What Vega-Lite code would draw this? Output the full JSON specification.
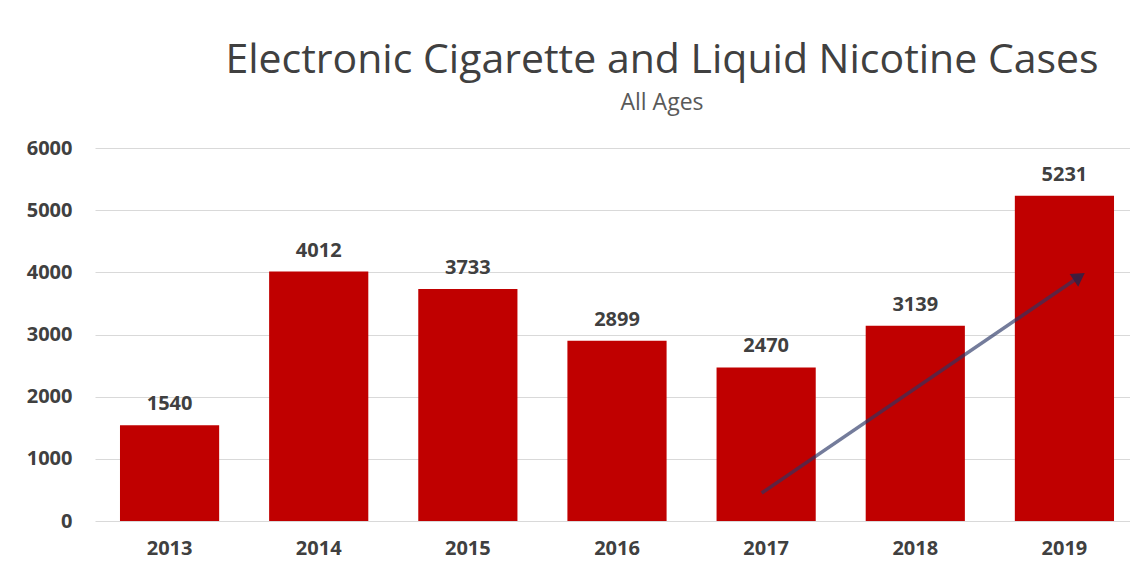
{
  "$schema": "https://vega.github.io/schema/vega-lite/v6.json",
  "width": 1044,
  "height": 373,
  "autosize": {"type": "none"},
  "padding": {"left": 95, "top": 148, "right": 0, "bottom": 60},
  "background": "white",
  "config": {"view": {"stroke": null}, "font": "Open Sans"},
  "title": {
    "text": "Electronic Cigarette and Liquid Nicotine Cases",
    "subtitle": "All Ages",
    "font": "Open Sans",
    "fontSize": 41,
    "fontWeight": "normal",
    "color": "#404040",
    "subtitleFont": "Open Sans",
    "subtitleFontSize": 23,
    "subtitleColor": "#595959",
    "subtitlePadding": 10,
    "anchor": "middle",
    "dx": 45,
    "offset": 22
  },
  "datasets": {
    "cases": [
      {"year": "2013", "cases": 1540},
      {"year": "2014", "cases": 4012},
      {"year": "2015", "cases": 3733},
      {"year": "2016", "cases": 2899},
      {"year": "2017", "cases": 2470},
      {"year": "2018", "cases": 3139},
      {"year": "2019", "cases": 5231}
    ],
    "arrow": [
      {"ax": 3.97, "ay": 450},
      {"ax": 6.1, "ay": 3930}
    ],
    "head": [
      {"ax": 6.1, "ay": 3930}
    ]
  },
  "resolve": {"scale": {"x": "independent"}, "axis": {"x": "independent"}},
  "layer": [
    {
      "data": {"name": "cases"},
      "mark": {"type": "bar", "color": "#C00000"},
      "encoding": {
        "x": {
          "field": "year", "type": "ordinal",
          "scale": {"paddingInner": 0.335, "paddingOuter": 0.1675},
          "axis": {"title": null, "labelAngle": 0, "domain": false, "ticks": false, "labelPadding": 17, "labelFontSize": 20, "labelFontWeight": "bold", "labelColor": "#404040", "labelFont": "Open Sans"}
        },
        "y": {
          "field": "cases", "type": "quantitative",
          "scale": {"domain": [0, 6000]},
          "axis": {"title": null, "values": [0, 1000, 2000, 3000, 4000, 5000, 6000], "format": "d", "domain": false, "ticks": false, "labelPadding": 23, "labelFontSize": 20, "labelFontWeight": "bold", "labelColor": "#404040", "labelFont": "Open Sans", "gridColor": "#D9D9D9", "gridWidth": 1.2}
        }
      }
    },
    {
      "data": {"name": "cases"},
      "mark": {"type": "text", "dy": -15, "baseline": "alphabetic", "fontSize": 20, "fontWeight": "bold", "color": "#404040", "font": "Open Sans"},
      "encoding": {
        "x": {"field": "year", "type": "ordinal", "scale": {"paddingInner": 0.335, "paddingOuter": 0.1675}, "axis": null},
        "y": {"field": "cases", "type": "quantitative", "scale": {"domain": [0, 6000]}},
        "text": {"field": "cases", "type": "quantitative", "format": "d"}
      }
    },
    {
      "data": {"name": "arrow"},
      "mark": {"type": "line", "color": "#2A3566", "opacity": 0.65, "strokeWidth": 3.5},
      "encoding": {
        "x": {"field": "ax", "type": "quantitative", "scale": {"domain": [-0.5, 6.5], "nice": false, "zero": false}, "axis": null},
        "y": {"field": "ay", "type": "quantitative", "scale": {"domain": [0, 6000]}}
      }
    },
    {
      "data": {"name": "head"},
      "mark": {"type": "point", "shape": "triangle-up", "filled": true, "color": "#3A1F3F", "opacity": 0.95, "size": 230, "angle": 55.7},
      "encoding": {
        "x": {"field": "ax", "type": "quantitative", "scale": {"domain": [-0.5, 6.5], "nice": false, "zero": false}, "axis": null},
        "y": {"field": "ay", "type": "quantitative", "scale": {"domain": [0, 6000]}}
      }
    }
  ]
}
